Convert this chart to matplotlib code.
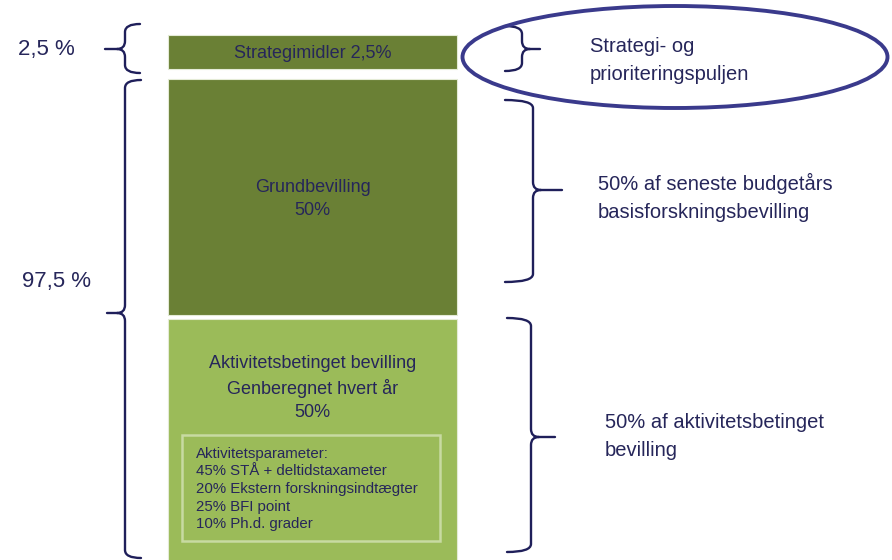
import matplotlib
matplotlib.use("Agg")
from matplotlib import pyplot as plt
from matplotlib.path import Path
from matplotlib.patches import PathPatch, Ellipse, Rectangle

plt.rcParams['font.family'] = ['Liberation Sans', 'DejaVu Sans']

# --- data ---
segment_labels = ["Strategimidler 2,5%",
                  "Grundbevilling\n50%",
                  "Aktivitetsbetinget bevilling\nGenberegnet hvert år\n50%"]
segment_shares = [2.5, 50, 50]
group_labels = ["2,5 %", "97,5 %"]
right_notes = ["Strategi- og\nprioriteringspuljen",
               "50% af seneste budgetårs\nbasisforskningsbevilling",
               "50% af aktivitetsbetinget\nbevilling"]
param_title = "Aktivitetsparameter:"
param_shares = [45, 20, 25, 10]
param_names = ["STÅ + deltidstaxameter", "Ekstern forskningsindtægter",
               "BFI point", "Ph.d. grader"]

# --- layout (pixel units, y downwards) ---
seg_top = [35, 79, 319]
seg_bottom = [69, 315, 562]
seg_colors = ['#6a8035', '#6a8035', '#9bbb59']
seg_text_y = [54, 199, 388]
navy = '#26265a'
brace_col = '#1f1f5a'

fig = plt.figure(figsize=(8.92, 5.60), dpi=100)
ax = fig.add_axes([0, 0, 1, 1])
ax.set_xlim(0, 892)
ax.set_ylim(560, 0)
ax.axis('off')

heights = [b - t for t, b in zip(seg_top, seg_bottom)]
ax.bar([312.5] * 3, heights, bottom=seg_top, width=289, color=seg_colors,
       edgecolor='#e4ebd6', linewidth=0.8)
for lab, y in zip(segment_labels, seg_text_y):
    ax.text(312.5, y, lab, ha='center', va='center', fontsize=13,
            color=navy, linespacing=1.45)

# parameter box
ax.add_patch(Rectangle((182, 435), 258, 106, fill=False,
                       edgecolor='#c8daa2', linewidth=1.8))
param_lines = [param_title] + [f"{s}% {n}" for s, n in zip(param_shares, param_names)]
ax.text(196, 489, "\n".join(param_lines), ha='left', va='center', fontsize=10.8,
        color=navy, linespacing=1.32)


def brace(x_end, x_line, x_tip, y_top, y_mid, y_bot, r=8):
    s = 1 if x_tip > x_line else -1
    verts = [(x_end, y_top), (x_line, y_top), (x_line, y_top + r),
             (x_line, y_mid - r), (x_line, y_mid), (x_line + s * r, y_mid),
             (x_tip, y_mid),
             (x_line + s * r, y_mid), (x_line, y_mid), (x_line, y_mid + r),
             (x_line, y_bot - r), (x_line, y_bot), (x_end, y_bot)]
    codes = [Path.MOVETO, Path.CURVE3, Path.CURVE3,
             Path.LINETO, Path.CURVE3, Path.CURVE3,
             Path.LINETO,
             Path.MOVETO, Path.CURVE3, Path.CURVE3,
             Path.LINETO, Path.CURVE3, Path.CURVE3]
    ax.add_patch(PathPatch(Path(verts, codes), fill=False,
                           edgecolor=brace_col, linewidth=1.7,
                           capstyle='round', joinstyle='round'))


# left braces
brace(140, 125, 105, 24, 49, 73)
brace(141, 125, 107, 80, 313, 558)
# right braces
brace(505, 522, 540, 26, 49, 71)
brace(505, 533, 562, 100, 190, 282)
brace(507, 531, 555, 318, 437, 552)

ax.text(18, 49, group_labels[0], ha='left', va='center', fontsize=16, color=navy)
ax.text(22, 282, group_labels[1], ha='left', va='center', fontsize=16, color=navy)

ax.add_patch(Ellipse((675, 57), 425, 102, fill=False, edgecolor='#3a3a8c',
                     linewidth=2.8))

for (x, y), note in zip([(590, 61), (598, 197), (605, 437)], right_notes):
    ax.text(x, y, note, ha='left', va='center', fontsize=14.5, color=navy,
            linespacing=1.6)

plt.savefig('out.png', dpi=100)
